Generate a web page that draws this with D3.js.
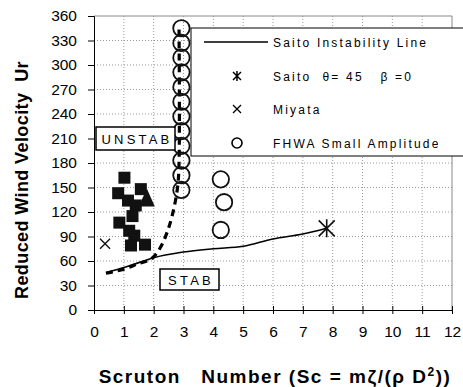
<!DOCTYPE html>
<html><head><meta charset="utf-8">
<script src="https://cdn.jsdelivr.net/npm/d3@7"></script>
<style>
body{margin:0;background:#fff;}
text{font-family:"Liberation Sans",Arial,sans-serif;fill:#000;}
</style></head>
<body><svg id="c" width="463" height="387"></svg>
<script>
const xTicks = [0,1,2,3,4,5,6,7,8,9,10,11,12];
const yTicks = [0,30,60,90,120,150,180,210,240,270,300,330,360];
const saitoLineX = [0.4,1,1.5,2,3,4,5,6,7,7.8];
const saitoLineY = [46,52,58,64,71,75,78,87,93,100];
const dashedX = [0.4,1,1.5,1.9,2.2,2.45,2.65,2.8,2.85,2.85];
const dashedY = [45,50,57,62,75,95,120,150,180,345];
const smallAmpX = [2.93,2.93,2.93,2.93,2.93,2.93,2.93,2.93,2.93,2.93,2.93,2.93,4.25,4.36,4.25];
const smallAmpY = [345,327,309,291,273,255,237,219,201,183,165,147,160,132,98];
const largeAmpX = [1.02,0.81,1.57,1.14,1.4,0.85,1.29,1.18,1.35,1.24,1.71];
const largeAmpY = [162,143,148,134,128,107,115,97,91,79,80];
const triX = [1.77];
const triY = [134];
const saitoPtX = [7.8];
const saitoPtY = [100];
const miyataX = [0.37];
const miyataY = [81];
const legendLabels = ["Saito Instability Line","Saito  θ= 45   β =0","Miyata","FHWA Small Amplitude"];

const svg = d3.select("#c");
const L=94, R=452, T=16, B=310;
const x = d3.scaleLinear().domain([0,12]).range([L,R]);
const y = d3.scaleLinear().domain([0,360]).range([B,T]);

// grid
const g = svg.append("g");
g.selectAll("line.vg").data(xTicks.slice(1,-1)).join("line")
  .attr("x1",d=>x(d)).attr("x2",d=>x(d)).attr("y1",T).attr("y2",B)
  .attr("stroke","#9a9a9a").attr("stroke-dasharray","1,2");
g.selectAll("line.hg").data(yTicks.slice(1,-1)).join("line")
  .attr("x1",L).attr("x2",R).attr("y1",d=>y(d)).attr("y2",d=>y(d))
  .attr("stroke","#9a9a9a").attr("stroke-dasharray","1,2");
svg.append("line").attr("x1",L).attr("x2",R).attr("y1",T).attr("y2",T).attr("stroke","#888");
svg.append("line").attr("x1",R).attr("x2",R).attr("y1",T).attr("y2",B).attr("stroke","#888");

// axes
const ya = svg.append("g").attr("transform",`translate(${L},0)`)
  .call(d3.axisLeft(y).tickValues(yTicks).tickSize(6).tickPadding(11));
ya.select(".domain").attr("stroke","#000");
ya.selectAll("text").attr("font-size",15.5).attr("font-family","Liberation Sans, Arial");
const xa = svg.append("g").attr("transform",`translate(0,${B})`)
  .call(d3.axisBottom(x).tickValues(xTicks).tickSize(4).tickPadding(12));
xa.selectAll(".tick line").attr("y1",-4).attr("y2",4);
xa.selectAll("text").attr("font-size",15.5).attr("font-family","Liberation Sans, Arial");

// series
const line = d3.line().x(d=>x(d[0])).y(d=>y(d[1])).curve(d3.curveMonotoneX);
const dashedPts = dashedX.map((v,i)=>[v,dashedY[i]]);
svg.append("path").attr("d",d3.line().x(d=>x(d[0])).y(d=>y(d[1])).curve(d3.curveCatmullRom)(dashedPts))
  .attr("fill","none").attr("stroke","#000").attr("stroke-width",3.2).attr("stroke-dasharray","7,5");
svg.append("path").attr("d",line(saitoLineX.map((v,i)=>[v,saitoLineY[i]])))
  .attr("fill","none").attr("stroke","#000").attr("stroke-width",1.6);

svg.selectAll("rect.sq").data(largeAmpX.map((v,i)=>[v,largeAmpY[i]])).join("rect")
  .attr("x",d=>x(d[0])-6).attr("y",d=>y(d[1])-6).attr("width",12).attr("height",12).attr("fill","#111");
svg.selectAll("path.tri").data(triX.map((v,i)=>[v,triY[i]])).join("path")
  .attr("d",d=>`M${x(d[0])},${y(d[1])-12}L${x(d[0])+8},${y(d[1])+6}L${x(d[0])-8},${y(d[1])+6}Z`).attr("fill","#111");

svg.selectAll("circle.sa").data(smallAmpX.map((v,i)=>[v,smallAmpY[i]])).join("circle")
  .attr("cx",d=>x(d[0])).attr("cy",d=>y(d[1])).attr("r",8.2)
  .attr("fill","none").attr("stroke","#111").attr("stroke-width",1.8);

function cross(s,h){ s.attr("d",d=>{const cx=x(d[0]),cy=y(d[1]);return `M${cx-h},${cy-h}L${cx+h},${cy+h}M${cx-h},${cy+h}L${cx+h},${cy-h}`;}); }
svg.selectAll("path.my").data(miyataX.map((v,i)=>[v,miyataY[i]])).join("path")
  .call(cross,5).attr("stroke","#111").attr("stroke-width",1.4).attr("fill","none");
svg.selectAll("path.st").data(saitoPtX.map((v,i)=>[v,saitoPtY[i]])).join("path")
  .attr("d",d=>{const cx=x(d[0]),cy=y(d[1]),h=8;return `M${cx-h},${cy-h}L${cx+h},${cy+h}M${cx-h},${cy+h}L${cx+h},${cy-h}M${cx},${cy-h-1}L${cx},${cy+h+1}`;})
  .attr("stroke","#111").attr("stroke-width",1.6).attr("fill","none");

// UNSTAB / STAB boxes
function box(x0,y0,w,h,txt){
  svg.append("rect").attr("x",x0).attr("y",y0).attr("width",w).attr("height",h)
    .attr("fill","#fff").attr("stroke","#000").attr("stroke-width",1.5);
  svg.append("text").attr("x",x0+w/2+1.5).attr("y",y0+h/2+5).attr("text-anchor","middle")
    .attr("font-size",13).attr("letter-spacing",3.2).text(txt);
}
box(96,127,79,23,"UNSTAB");
box(160,269,59,21,"STAB");

// legend
const lg = svg.append("g");
lg.append("rect").attr("x",191).attr("y",28).attr("width",300).attr("height",128)
  .attr("fill","#fff").attr("stroke","#000").attr("stroke-width",1);
const ly=[42,76,109,143];
lg.append("line").attr("x1",204).attr("x2",268).attr("y1",ly[0]).attr("y2",ly[0]).attr("stroke","#000").attr("stroke-width",1.5);
{const cx=237,cy=ly[1],h=4;lg.append("path").attr("d",`M${cx-h},${cy-h}L${cx+h},${cy+h}M${cx-h},${cy+h}L${cx+h},${cy-h}M${cx},${cy-h-1}L${cx},${cy+h+1}`).attr("stroke","#000").attr("stroke-width",1.5);}
{const cx=237,cy=ly[2],h=4;lg.append("path").attr("d",`M${cx-h},${cy-h}L${cx+h},${cy+h}M${cx-h},${cy+h}L${cx+h},${cy-h}`).attr("stroke","#000").attr("stroke-width",1.3);}
lg.append("circle").attr("cx",237).attr("cy",ly[3]).attr("r",5).attr("fill","none").attr("stroke","#000").attr("stroke-width",1.6);
lg.selectAll("text.lt").data(legendLabels).join("text")
  .attr("x",273).attr("y",(d,i)=>ly[i]+4.5).attr("font-size",12).attr("letter-spacing",2.2)
  .style("white-space","pre").text(d=>d);

// titles
svg.append("text").attr("transform","translate(28,180) rotate(-90)").attr("text-anchor","middle")
  .attr("font-size",18).attr("font-weight","bold").attr("letter-spacing",0.4)
  .style("white-space","pre").text("Reduced Wind Velocity  Ur");
const xt = svg.append("text").attr("x",275).attr("y",383).attr("text-anchor","middle")
  .attr("font-size",19).attr("font-weight","bold").attr("letter-spacing",1.5).style("white-space","pre");
xt.append("tspan").text("Scruton   Number (Sc = mζ/(ρ D");
xt.append("tspan").attr("font-size",12).attr("dy",-7).text("2");
xt.append("tspan").attr("dy",7).text("))");
</script></body></html>
